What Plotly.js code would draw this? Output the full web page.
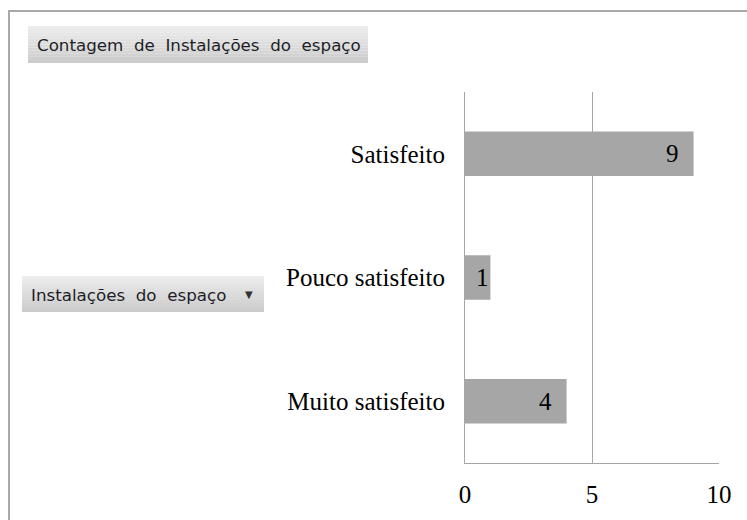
<!DOCTYPE html>
<html>
<head>
<meta charset="utf-8">
<script src="https://cdn.plot.ly/plotly-3.0.1.min.js"></script>
<style>
html,body{margin:0;padding:0;background:#fff;overflow:hidden;}
#chart{width:747px;height:520px;}
</style>
</head>
<body>
<div id="chart"></div>
<script>
// ---- data ----
const categories = ['Muito satisfeito', 'Pouco satisfeito', 'Satisfeito'];
const counts = [4, 1, 9];
const xTickVals = [0, 5, 10];
const xTickText = ['0', '5', '10'];
const titleButtonText = 'Contagem de Instalações do espaço';
const fieldButtonText = 'Instalações do espaço';

// ---- geometry helpers (pixel -> paper) ----
const W = 747, H = 520;
const M = {l: 465, r: 28, t: 92, b: 57};
const PW = W - M.l - M.r, PH = H - M.t - M.b;
const px = v => (v - M.l) / PW;
const py = v => (H - M.b - v) / PH;
const XMAX = 10;

const serif = 'Liberation Serif, Times New Roman, serif';
const sans = 'DejaVu Sans, Verdana, sans-serif';
const wide = s => s.split(' ').join('\u00a0\u00a0');

const shapes = [];
// outer chart border
shapes.push({type: 'rect', xref: 'paper', yref: 'paper', layer: 'below',
  x0: px(9), x1: px(760), y0: py(11), y1: py(540),
  line: {color: '#a9a9a9', width: 2}, fillcolor: 'rgba(0,0,0,0)'});

// gradient button helper
function button(x0, y0, x1, y1) {
  const n = 12;
  const top = [236, 236, 236], bot = [204, 204, 204];
  for (let i = 0; i < n; i++) {
    const t = i / (n - 1);
    const c = top.map((a, k) => Math.round(a + (bot[k] - a) * t));
    shapes.push({type: 'rect', xref: 'paper', yref: 'paper', layer: 'below',
      x0: px(x0), x1: px(x1),
      y0: py(y0 + (y1 - y0) * i / n), y1: py(y0 + (y1 - y0) * (i + 1) / n),
      line: {width: 0}, fillcolor: `rgb(${c[0]},${c[1]},${c[2]})`});
  }
}
button(28, 26, 368, 63);
button(22, 276, 264, 312);

const annotations = [
  {xref: 'paper', yref: 'paper', x: px(35), y: py(44.5), xanchor: 'left', yanchor: 'middle',
   text: wide(titleButtonText), showarrow: false, font: {family: sans, size: 16.7, color: '#1e1e28'}},
  {xref: 'paper', yref: 'paper', x: px(29), y: py(294.5), xanchor: 'left', yanchor: 'middle',
   text: wide(fieldButtonText), showarrow: false, font: {family: sans, size: 16.7, color: '#1e1e28'}},
  {xref: 'paper', yref: 'paper', x: px(249), y: py(294), xanchor: 'center', yanchor: 'middle',
   text: '▼', showarrow: false, font: {family: sans, size: 10, color: '#333'}}
];
// data labels (inside end)
categories.forEach((c, i) => {
  const barPx = counts[i] * PW / XMAX;
  annotations.push({x: counts[i], y: c, xref: 'x', yref: 'y', xanchor: 'right', yanchor: 'middle',
    xshift: Math.max(-13, 26 - barPx), text: String(counts[i]), showarrow: false,
    font: {family: serif, size: 25, color: '#000'}});
});

const trace = {
  type: 'bar', orientation: 'h',
  x: counts, y: categories,
  marker: {color: '#a6a6a6', line: {width: 0}},
  hoverinfo: 'none'
};

const layout = {
  width: W, height: H,
  margin: M,
  paper_bgcolor: '#fff', plot_bgcolor: '#fff',
  showlegend: false,
  bargap: 0.64,
  xaxis: {
    range: [0, XMAX], tickvals: xTickVals, ticktext: xTickText,
    showgrid: true, gridcolor: '#a6a6a6', gridwidth: 1,
    showline: true, linecolor: '#a6a6a6', linewidth: 1,
    zeroline: false, ticks: '', ticklabelstandoff: 9,
    tickfont: {family: serif, size: 25, color: '#000'},
    fixedrange: true
  },
  yaxis: {
    type: 'category', categoryorder: 'array', categoryarray: categories,
    showgrid: false, showline: true, linecolor: '#a6a6a6', linewidth: 1,
    zeroline: false, ticks: '', ticklabelstandoff: 14,
    tickfont: {family: serif, size: 25, color: '#000'},
    fixedrange: true
  },
  shapes: shapes,
  annotations: annotations
};

Plotly.newPlot('chart', [trace], layout, {displayModeBar: false, staticPlot: true});
</script>
</body>
</html>
